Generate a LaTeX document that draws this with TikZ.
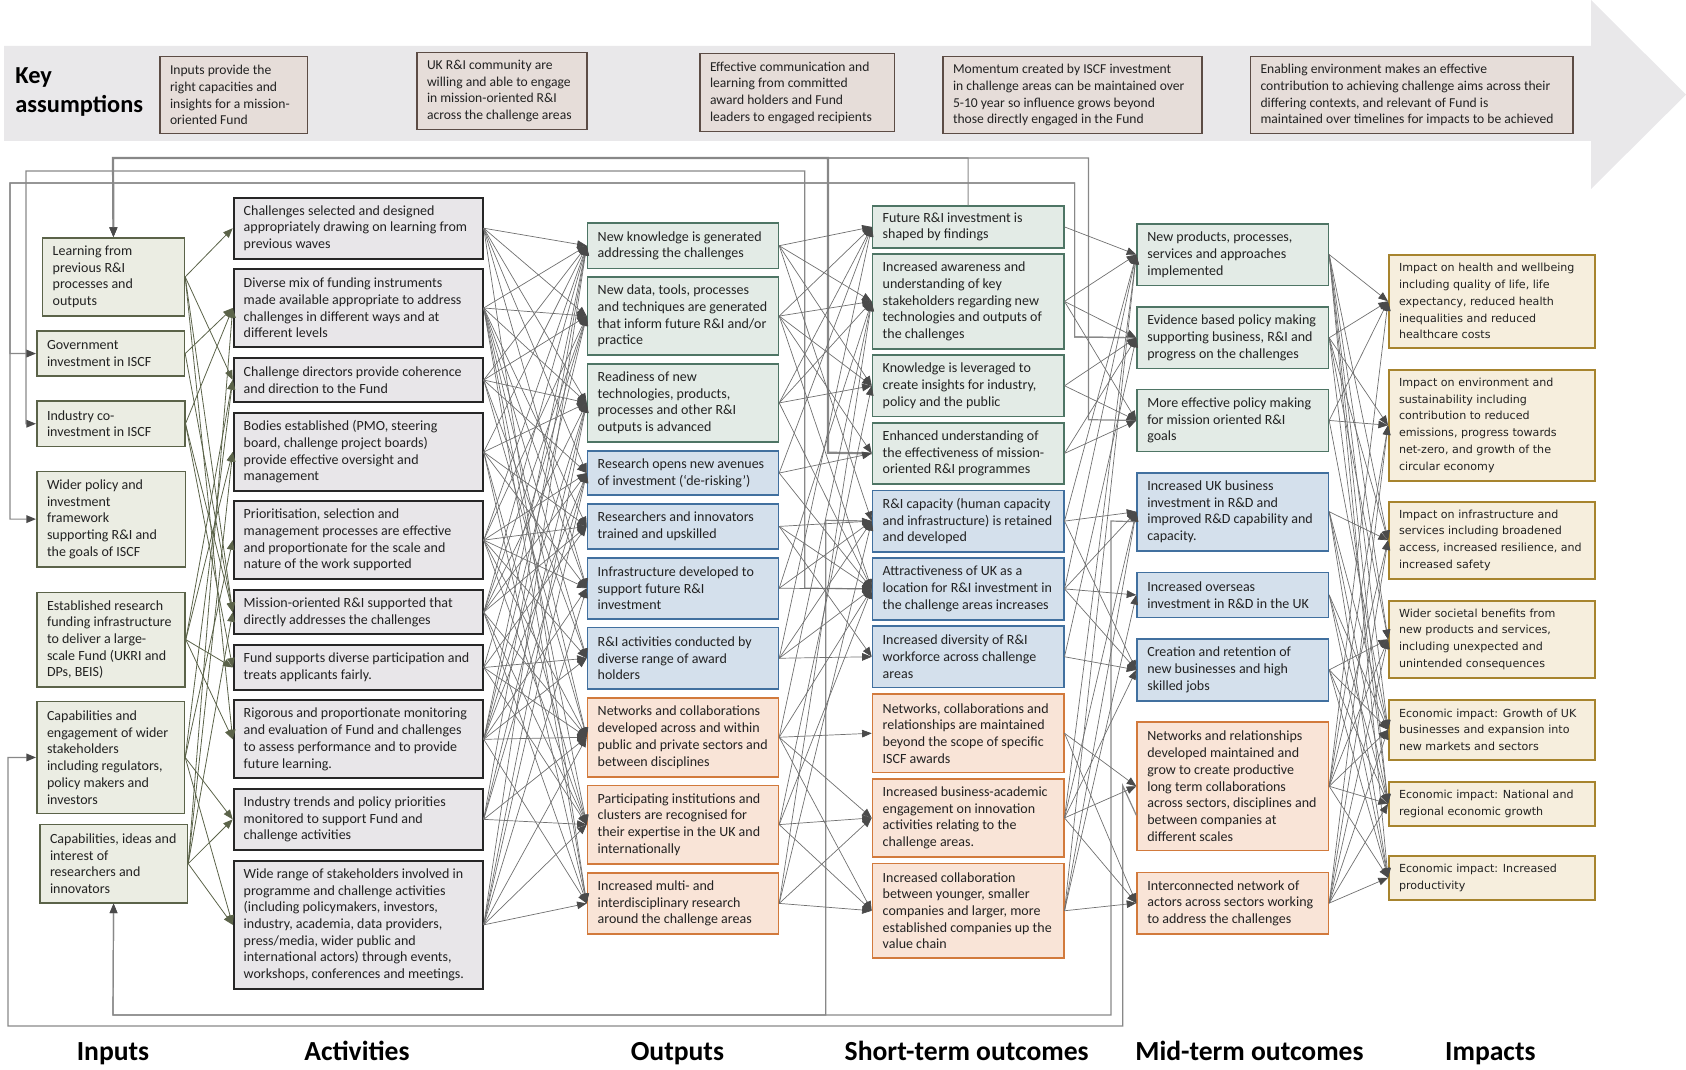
\documentclass[tikz,border=0pt]{standalone}
\usepackage{fontspec}
\setmainfont{Carlito}
\newfontfamily\impfont{DejaVu Sans}
\usetikzlibrary{arrows.meta}
\definecolor{inpF}{HTML}{EBEDE3}\definecolor{inpD}{HTML}{5B6349}
\definecolor{actF}{HTML}{E8E6E9}\definecolor{actD}{HTML}{262626}
\definecolor{grnF}{HTML}{E3EBE6}\definecolor{grnD}{HTML}{4E7565}
\definecolor{bluF}{HTML}{D4E0EC}\definecolor{bluD}{HTML}{41709F}
\definecolor{orgF}{HTML}{F9E4D7}\definecolor{orgD}{HTML}{D27A3C}
\definecolor{impF}{HTML}{F6EEDD}\definecolor{impD}{HTML}{A7842E}
\definecolor{kaF}{HTML}{E6DDD9}\definecolor{kaD}{HTML}{5C4C45}
\definecolor{bandC}{HTML}{E9E8EA}
\definecolor{lnC}{HTML}{707070}\definecolor{tipC}{HTML}{4A4A4A}
\definecolor{fbC}{HTML}{888888}\definecolor{txtC}{HTML}{222222}
\newcommand\bx[8]{%
 \pgfmathsetmacro\bw{(#6-#4)*0.5}%
 \pgfmathsetmacro\bh{(#7-#5)*0.5}%
 \node[#2, anchor=north west, minimum width=\bw pt, minimum height=\bh pt] (#1) at (#4,#5) {};%
 \node[#3, anchor=west] at ([xshift=5.3pt]#1.west) {#8};}
\begin{document}
\begin{tikzpicture}[x=0.5pt,y=-0.5pt,
 box/.style={draw, inner sep=0pt, line width=0.75pt},
 inp/.style={box, fill=inpF, draw=inpD},
 act/.style={box, fill=actF, draw=actD, line width=1pt},
 grn/.style={box, fill=grnF, draw=grnD},
 blu/.style={box, fill=bluF, draw=bluD},
 org/.style={box, fill=orgF, draw=orgD},
 imp/.style={box, fill=impF, draw=impD},
 kas/.style={box, fill=kaF, draw=kaD},
 txt/.style={align=left, inner sep=0pt, font=\fontsize{7}{8.35}\selectfont, text=txtC},
 itxt/.style={align=left, inner sep=0pt, font=\impfont\fontsize{5.55}{8.35}\selectfont, text=txtC},
 ktxt/.style={align=left, inner sep=0pt, font=\fontsize{6.8}{8.35}\selectfont, text=txtC},
 conn/.style={draw=lnC, line width=0.35pt, -{Triangle[length=4.8pt,width=3.8pt,color=tipC]}},
 iconn/.style={draw=inpD, line width=0.4pt, -{Triangle[length=4.8pt,width=3.8pt,color=inpD]}},
 fb/.style={draw=fbC, line width=0.6pt, -{Triangle[length=4.8pt,width=3.8pt,color=tipC]}},
 lab/.style={font=\fontsize{13.8}{15}\bfseries\selectfont, text=black, inner sep=0pt, anchor=base}
]
\useasboundingbox (0,0) rectangle (1686,1070);
% key assumptions band
\fill[bandC] (4,46) -- (1591,46) -- (1591,0) -- (1686,94.6) -- (1591,189) -- (1591,141) -- (4,141) -- cycle;
\node[anchor=west, align=left, font=\fontsize{12.2}{14.5}\bfseries\selectfont, inner sep=0pt] (keyl) at (15,92) {Key\\assumptions};
\bx{K1}{kas}{ktxt}{159}{56}{306.5}{133}{Inputs provide the\\right capacities and\\insights for a mission-\\oriented Fund}
\bx{K2}{kas}{ktxt}{416}{51.6}{586}{129}{UK R\&I community are\\willing and able to engage\\in mission-oriented R\&I\\across the challenge areas}
\bx{K3}{kas}{ktxt}{699}{52.7}{893.6}{131}{Effective communication and\\learning from committed\\award holders and Fund\\leaders to engaged recipients}
\bx{K4}{kas}{ktxt}{942}{56}{1201}{133}{Momentum created by ISCF investment\\in challenge areas can be maintained over\\5-10 year so influence grows beyond\\those directly engaged in the Fund}
\bx{K5}{kas}{ktxt}{1249.5}{56}{1572}{133}{Enabling environment makes an effective\\contribution to achieving challenge aims across their\\differing contexts, and relevant of Fund is\\maintained over timelines for impacts to be achieved}
% inputs
\bx{Ia}{inp}{txt}{41.7}{237}{183.7}{315.3}{Learning from\\previous R\&I\\processes and\\outputs}
\bx{Ib}{inp}{txt}{36}{330.3}{183.7}{375.3}{Government\\investment in ISCF}
\bx{Ic}{inp}{txt}{36}{400.3}{184}{445.7}{Industry co-\\investment in ISCF}
\bx{Id}{inp}{txt}{36}{470.7}{184.7}{566}{Wider policy and\\investment\\framework\\supporting R\&I and\\the goals of ISCF}
\bx{Ie}{inp}{txt}{36}{591.7}{184.3}{686}{Established research\\funding infrastructure\\to deliver a large-\\scale Fund (UKRI and\\DPs, BEIS)}
\bx{If}{inp}{txt}{36}{700.7}{183.7}{812.7}{Capabilities and\\engagement of wider\\stakeholders\\including regulators,\\policy makers and\\investors}
\bx{Ig}{inp}{txt}{39}{823.7}{186.7}{902}{Capabilities, ideas and\\interest of\\researchers and\\innovators}
% activities
\bx{A1}{act}{txt}{232.7}{196.7}{481.7}{257.7}{Challenges selected and designed\\appropriately drawing on learning from\\previous waves}
\bx{A2}{act}{txt}{232.7}{268}{481.7}{346}{Diverse mix of funding instruments\\made available appropriate to address\\challenges in different ways and at\\different levels}
\bx{A3}{act}{txt}{232.7}{356.7}{481.7}{401.3}{Challenge directors provide coherence\\and direction to the Fund}
\bx{A4}{act}{txt}{232.7}{412}{481.7}{490}{Bodies established (PMO, steering\\board, challenge project boards)\\provide effective oversight and\\management}
\bx{A5}{act}{txt}{232.7}{500}{481.7}{578.3}{Prioritisation, selection and\\management processes are effective\\and proportionate for the scale and\\nature of the work supported}
\bx{A6}{act}{txt}{232.7}{589}{481.7}{633.3}{Mission-oriented R\&I supported that\\directly addresses the challenges}
\bx{A7}{act}{txt}{232.7}{644}{481.7}{689}{Fund supports diverse participation and\\treats applicants fairly.}
\bx{A8}{act}{txt}{232.7}{699.3}{481.7}{777.3}{Rigorous and proportionate monitoring\\and evaluation of Fund and challenges\\to assess performance and to provide\\future learning.}
\bx{A9}{act}{txt}{232.7}{788}{481.7}{848.7}{Industry trends and policy priorities\\monitored to support Fund and\\challenge activities}
\bx{A10}{act}{txt}{232.7}{859.7}{481.7}{988}{Wide range of stakeholders involved in\\programme and challenge activities\\(including policymakers, investors,\\industry, academia, data providers,\\press/media, wider public and\\international actors) through events,\\workshops, conferences and meetings.}
% outputs
\bx{O1}{grn}{txt}{586.7}{222.3}{777.7}{267.7}{New knowledge is generated\\addressing the challenges}
\bx{O2}{grn}{txt}{586.7}{276.3}{777.7}{354.3}{New data, tools, processes\\and techniques are generated\\that inform future R\&I and/or\\practice}
\bx{O3}{grn}{txt}{586.7}{363}{777.7}{441.3}{Readiness of new\\technologies, products,\\processes and other R\&I\\outputs is advanced}
\bx{O4}{blu}{txt}{586.7}{450.3}{777.7}{494.3}{Research opens new avenues\\of investment (‘de-risking’)}
\bx{O5}{blu}{txt}{586.7}{503}{777.7}{548.3}{Researchers and innovators\\trained and upskilled}
\bx{O6}{blu}{txt}{586.7}{557}{777.7}{618}{Infrastructure developed to\\support future R\&I\\investment}
\bx{O7}{blu}{txt}{586.7}{626.7}{777.7}{688.3}{R\&I activities conducted by\\diverse range of award\\holders}
\bx{O8}{org}{txt}{586.7}{697}{777.7}{776}{Networks and collaborations\\developed across and within\\public and private sectors and\\between disciplines}
\bx{O9}{org}{txt}{586.7}{784.7}{777.7}{863}{Participating institutions and\\clusters are recognised for\\their expertise in the UK and\\internationally}
\bx{O10}{org}{txt}{586.7}{872}{777.7}{933.3}{Increased multi- and\\interdisciplinary research\\around the challenge areas}
% short-term
\bx{S1}{grn}{txt}{871.7}{205.3}{1063}{247}{Future R\&I investment is\\shaped by findings}
\bx{S2}{grn}{txt}{871.7}{253.3}{1063}{348}{Increased awareness and\\understanding of key\\stakeholders regarding new\\technologies and outputs of\\the challenges}
\bx{S3}{grn}{txt}{871.7}{354.3}{1063}{415.7}{Knowledge is leveraged to\\create insights for industry,\\policy and the public}
\bx{S4}{grn}{txt}{871.7}{422}{1063}{483.3}{Enhanced understanding of\\the effectiveness of mission-\\oriented R\&I programmes}
\bx{S5}{blu}{txt}{871.7}{489.7}{1063}{551}{R\&I capacity (human capacity\\and infrastructure) is retained\\and developed}
\bx{S6}{blu}{txt}{871.7}{557.3}{1063}{619}{Attractiveness of UK as a\\location for R\&I investment in\\the challenge areas increases}
\bx{S7}{blu}{txt}{871.7}{625.3}{1063}{686.7}{Increased diversity of R\&I\\workforce across challenge\\areas}
\bx{S8}{org}{txt}{871.7}{693.3}{1063}{771.7}{Networks, collaborations and\\relationships are maintained\\beyond the scope of specific\\ISCF awards}
\bx{S9}{org}{txt}{871.7}{778}{1063}{856.3}{Increased business-academic\\engagement on innovation\\activities relating to the\\challenge areas.}
\bx{S10}{org}{txt}{871.7}{862.7}{1063}{957.3}{Increased collaboration\\between younger, smaller\\companies and larger, more\\established companies up the\\value chain}
% mid-term
\bx{M1}{grn}{txt}{1136.3}{223}{1327.7}{284.7}{New products, processes,\\services and approaches\\implemented}
\bx{M2}{grn}{txt}{1136.3}{306.3}{1327.7}{367.7}{Evidence based policy making\\supporting business, R\&I and\\progress on the challenges}
\bx{M3}{grn}{txt}{1136.3}{388.7}{1327.7}{450.7}{More effective policy making\\for mission oriented R\&I\\goals}
\bx{M4}{blu}{txt}{1136.3}{472}{1327.7}{550}{Increased UK business\\investment in R\&D and\\improved R\&D capability and\\capacity.}
\bx{M5}{blu}{txt}{1136.3}{571.7}{1327.7}{616.7}{Increased overseas\\investment in R\&D in the UK}
\bx{M6}{blu}{txt}{1136.3}{638.3}{1327.7}{700}{Creation and retention of\\new businesses and high\\skilled jobs}
\bx{M7}{org}{txt}{1136.3}{721.3}{1327.7}{849.7}{Networks and relationships\\developed maintained and\\grow to create productive\\long term collaborations\\across sectors, disciplines and\\between companies at\\different scales}
\bx{M8}{org}{txt}{1136.3}{871.7}{1327.7}{933}{Interconnected network of\\actors across sectors working\\to address the challenges}
% impacts
\bx{P1}{imp}{itxt}{1388}{254}{1594}{347}{Impact on health and wellbeing\\including quality of life, life\\expectancy, reduced health\\inequalities and reduced\\healthcare costs}
\bx{P2}{imp}{itxt}{1388}{369}{1594}{480}{Impact on environment and\\sustainability including\\contribution to reduced\\emissions, progress towards\\net-zero, and growth of the\\circular economy}
\bx{P3}{imp}{itxt}{1388}{501}{1594}{578}{Impact on infrastructure and\\services including broadened\\access, increased resilience, and\\increased safety}
\bx{P4}{imp}{itxt}{1388}{600}{1594}{677}{Wider societal benefits from\\new products and services,\\including unexpected and\\unintended consequences}
\bx{P5}{imp}{itxt}{1388}{699}{1594}{759}{Economic impact: Growth of UK\\businesses and expansion into\\new markets and sectors}
\bx{P6}{imp}{itxt}{1388}{781}{1594}{825}{Economic impact: National and\\regional economic growth}
\bx{P7}{imp}{itxt}{1388}{855}{1594}{899}{Economic impact: Increased\\productivity}
% feedback loops
\draw[fb] (S1.north) |- (113,158) -- (Ia.north);
\draw[fb, line width=1.1pt] (S4.west) -- (828,452.7) -- (828,158) -- (113,158) -- (Ia.north);
\draw[fb] (M3.west) -- (1088.4,419.7) -- (1088.4,158) -- (113,158) -- (Ia.north);
\draw[fb] (S6.west) -- (804.8,588.2) -- (804.8,171) -- (26,171) |- (Ic.west);
\draw[fb] (M2.west) -- (1074.6,337) -- (1074.6,183) -- (10,183) |- (Ib.west);
\draw[fb] (M2.west) -- (1074.6,337) -- (1074.6,183) -- (10,183) |- (Id.west);
\coordinate (fbA) at (825.7,520.3);
\draw[fb] (S5.west) -- (fbA) -- (825.7,1015) -- (113,1015) -- (Ig.south);
\draw[fb] ([yshift=-5pt]M4.west) -- (1111,521) -- (1111,1015) -- (113,1015) -- (Ig.south);
\draw[fb] ([yshift=-14.5pt]M7.west) -- (1122.7,785.7) -- (1122.7,1026) -- (8,1026) |- (If.west);
% inputs -> activities
\foreach \s/\t in {Ia/A1,Ia/A3,Ia/A6,Ia/A8,Ib/A2,Ib/A6,Ic/A2,Ic/A6,Ic/A7,Ie/A3,Ie/A4,Ie/A7,Ie/A8,If/A3,If/A5,If/A9,If/A10,Ig/A2,Ig/A4,Ig/A6,Ig/A9,Ig/A10}
  \draw[iconn] (\s.east) -- (\t.west);
% activities -> outputs
\foreach \s/\t in {A1/O1,A1/O2,A1/O3,A1/O4,A1/O6,A1/O10,
 A2/O1,A2/O2,A2/O3,A2/O5,A2/O6,A2/O7,A2/O8,A2/O9,A2/O10,
 A3/O1,A3/O2,A3/O3,A3/O4,A3/O7,A3/O8,
 A4/O1,A4/O3,A4/O5,A4/O6,A4/O9,A4/O10,
 A5/O1,A5/O2,A5/O4,A5/O5,A5/O6,A5/O7,A5/O8,A5/O9,
 A6/O1,A6/O2,A6/O3,A6/O4,A6/O5,A6/O8,A6/O9,A6/O10,
 A7/O2,A7/O5,A7/O7,A7/O8,A7/O9,
 A8/O1,A8/O2,A8/O3,A8/O4,A8/O6,A8/O7,A8/O8,A8/O10,
 A9/O1,A9/O3,A9/O4,A9/O8,A9/O9,
 A10/O1,A10/O3,A10/O4,A10/O6,A10/O8,A10/O9,A10/O10}
  \draw[conn] (\s.east) -- (\t.west);
% outputs -> short-term
\foreach \s/\t in {O1/S1,O1/S2,O1/S3,O1/S5,
 O2/S1,O2/S2,O2/S3,O2/S4,O2/S6,
 O3/S1,O3/S2,O3/S3,O3/S6,
 O4/S4,O4/S6,O4/S1,
 O5/S5,O5/S6,O5/S7,
 O6/S5,O6/S6,O6/S2,
 O7/S5,O7/S6,O7/S7,O7/S1,
 O8/S8,O8/S9,O8/S10,O8/S2,O8/S6,
 O9/S9,O9/S10,O9/S6,O9/S3,
 O10/S9,O10/S10,O10/S2,O10/S5}
  \draw[conn] (\s.east) -- (\t.west);
% short-term -> mid-term
\foreach \s/\t in {S1/M1,S2/M1,S2/M2,S2/M3,S3/M2,S3/M3,S4/M2,S4/M3,
 S5/M4,S5/M6,S5/M1,S6/M4,S6/M5,S6/M1,S6/M6,S7/M6,S7/M2,
 S8/M7,S8/M8,S9/M7,S9/M8,S9/M1,S9/M4,S9/M6,
 S10/M8,S10/M4,S10/M1,S10/M5}
  \draw[conn] (\s.east) -- (\t.west);
% mid-term -> impacts
\foreach \s/\t in {M1/P1,M1/P3,M1/P4,M1/P5,M1/P6,M1/P7,
 M2/P1,M2/P2,M2/P3,M2/P4,M2/P6,
 M3/P1,M3/P2,M3/P5,
 M4/P3,M4/P5,M4/P6,M4/P7,
 M5/P5,M5/P6,M5/P7,
 M6/P4,M6/P5,M6/P6,M6/P7,
 M7/P1,M7/P2,M7/P3,M7/P4,M7/P5,M7/P6,M7/P7,
 M8/P2,M8/P3,M8/P4,M8/P5,M8/P6,M8/P7}
  \draw[conn] (\s.east) -- (\t.west);
% column labels
\node[lab] (l1) at (113,1060) {Inputs};
\node[lab] (l2) at (357,1060) {Activities};
\node[lab] (l3) at (677.4,1060) {Outputs};
\node[lab] (l4) at (966.7,1060) {Short-term outcomes};
\node[lab] (l5) at (1249.5,1060) {Mid-term outcomes};
\node[lab] (l6) at (1490.4,1060) {Impacts};
\end{tikzpicture}
\end{document}
